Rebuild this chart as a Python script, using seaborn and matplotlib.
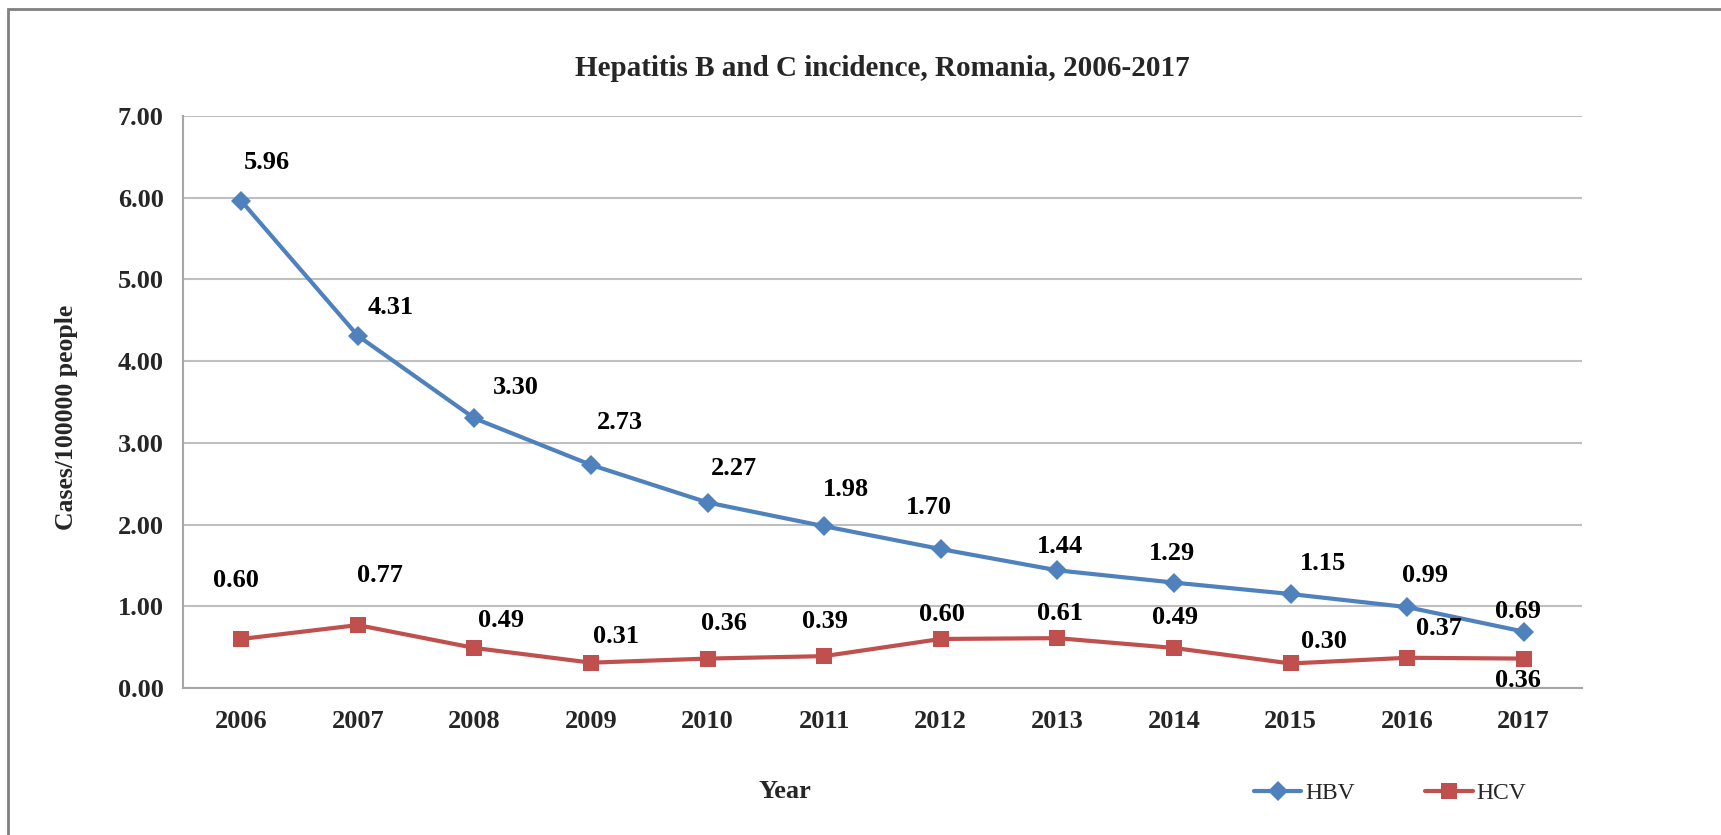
import numpy as np
import pandas as pd
import matplotlib
matplotlib.use('Agg')
import matplotlib.pyplot as plt
import seaborn as sns
from matplotlib.patches import Rectangle

# data
years = [2006, 2007, 2008, 2009, 2010, 2011, 2012, 2013, 2014, 2015, 2016, 2017]
hbv = [5.96, 4.31, 3.30, 2.73, 2.27, 1.98, 1.70, 1.44, 1.29, 1.15, 0.99, 0.69]
hcv = [0.60, 0.77, 0.49, 0.31, 0.36, 0.39, 0.60, 0.61, 0.49, 0.30, 0.37, 0.36]
y_ticks = [0, 1, 2, 3, 4, 5, 6, 7]

# where the value labels sit relative to their point (pixels, +y is up)
hbv_off = [(26, 38), (33, 28), (41, 31), (29, 42), (26, 34), (22, 37),
           (-12, 42), (3, 24), (-2, 29), (32, 31), (18, 32), (-6, 20)]
hcv_off = [(-5, 58), (22, 50), (27, 27), (25, 26), (16, 35), (1, 35),
           (1, 24), (3, 25), (1, 30), (33, 22), (32, 29), (-6, -22)]

blue = '#4F81BD'
red = '#C0504D'

sns.set_theme(style='white')
plt.rcParams['font.family'] = ['Liberation Serif', 'DejaVu Serif']
plt.rcParams['font.weight'] = 'bold'

df = pd.DataFrame({'Year': years, 'HBV': hbv, 'HCV': hcv})

fig = plt.figure(figsize=(17.21, 8.35), dpi=100)
ax = fig.add_axes([183/1721, 1-688/835, (1582-183)/1721, (688-116)/835])

sns.lineplot(data=df, x='Year', y='HBV', ax=ax, color=blue, lw=3,
             marker='D', markersize=10, markeredgewidth=0, label='HBV', legend=False)
sns.lineplot(data=df, x='Year', y='HCV', ax=ax, color=red, lw=3,
             marker='s', markersize=11, markeredgewidth=0, label='HCV', legend=False)

for vals, offs in ((hbv, hbv_off), (hcv, hcv_off)):
    for x, v, (dx, dy) in zip(years, vals, offs):
        ax.annotate(f'{v:.2f}', (x, v), xytext=(dx, dy), textcoords='offset pixels',
                    ha='center', va='center', fontsize=19, fontweight='bold', color='black')

ax.set_xlim(years[0]-0.5, years[-1]+0.5)
ax.set_ylim(0, 7)
ax.set_yticks(y_ticks)
ax.set_yticklabels([f'{v:.2f}' for v in y_ticks])
ax.set_xticks(years)
ax.set_xticklabels([str(y) for y in years])
ax.yaxis.grid(True, color='#BFBFBF', lw=1.5)
ax.xaxis.grid(False)
ax.set_xlabel('')
ax.set_ylabel('')
for s in ['top', 'right']:
    ax.spines[s].set_visible(False)
for s in ['left', 'bottom']:
    ax.spines[s].set_color('#A6A6A6')
    ax.spines[s].set_linewidth(1.5)
ax.tick_params(axis='y', direction='out', length=5, width=1.2, color='#A6A6A6',
               labelsize=19, pad=9)
ax.tick_params(axis='x', length=0, labelsize=19, pad=16)

fig.text(882/1721, 1-68/835, 'Hepatitis B and C incidence, Romania, 2006-2017',
         ha='center', va='center', fontsize=21, fontweight='bold')
fig.text(66/1721, 1-417/835, 'Cases/100000 people', rotation=90,
         ha='center', va='center', fontsize=18.5, fontweight='bold')
fig.text(785/1721, 1-792/835, 'Year', ha='center', va='center',
         fontsize=19, fontweight='bold')

handles, labels = ax.get_legend_handles_labels()
fig.legend(handles, labels, loc='center', bbox_to_anchor=(1390/1721, 1-793/835),
           ncol=2, frameon=False, prop={'size': 17, 'weight': 'normal'},
           handlelength=2.0, handletextpad=0.15, columnspacing=3.0)

fig.patches.append(Rectangle((8/1721, -0.05), 1.1, 1-9/835+0.05, transform=fig.transFigure,
                             fill=False, ec='#808080', lw=2))

fig.savefig('out.png', dpi=100)
